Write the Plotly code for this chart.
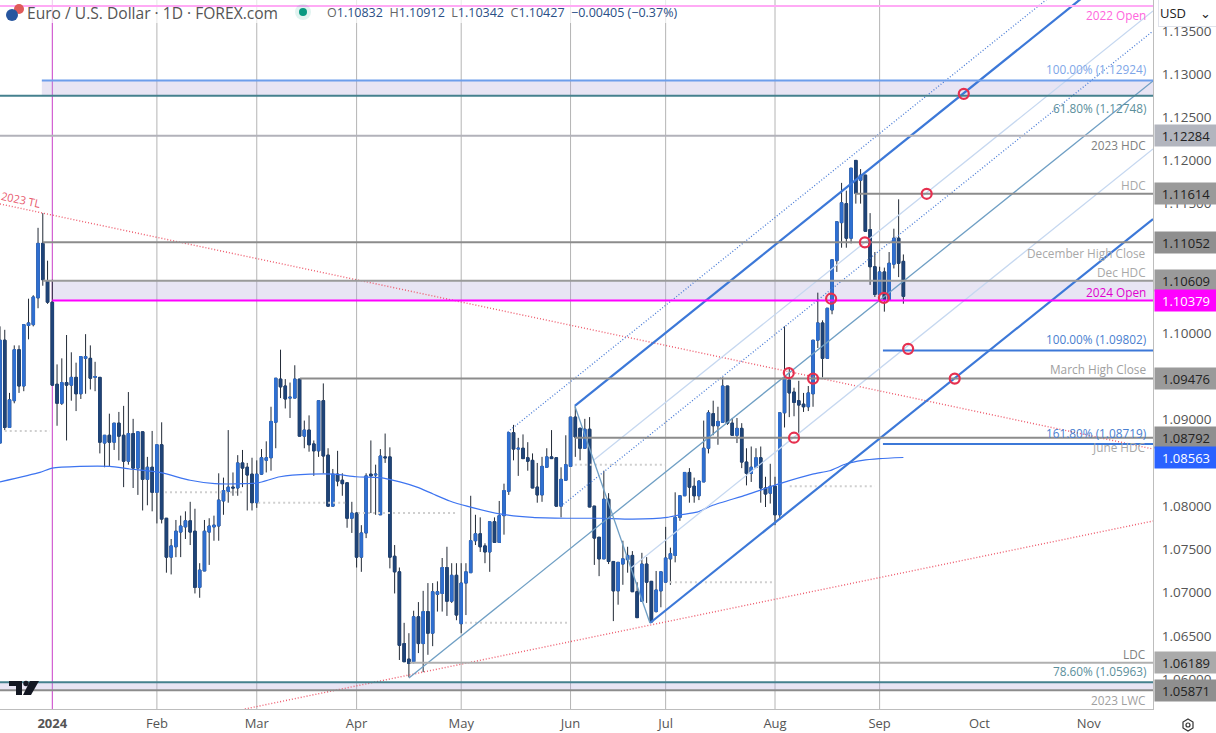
import plotly.graph_objects as go

# ---- data ----------------------------------------------------------------
opens = [1.0873,1.0992,1.0891,1.0922,1.0981,1.0939,1.1009,1.1010,1.1041,1.1104,
1.1061,1.1036,1.0941,1.0919,1.0943,1.0940,1.0949,1.0930,1.0971,1.0971,
1.0949,1.0949,1.0873,1.0882,1.0874,1.0896,1.0882,1.0852,1.0884,1.0844,
1.0886,1.0831,1.0845,1.0816,1.0871,1.0786,1.0741,1.0753,1.0770,1.0776,
1.0783,1.0771,1.0706,1.0725,1.0770,1.0776,1.0777,1.0806,1.0817,1.0822,
1.0821,1.0850,1.0845,1.0837,1.0804,1.0837,1.0853,1.0856,1.0897,1.0947,
1.0939,1.0925,1.0925,1.0947,1.0881,1.0888,1.0872,1.0864,1.0922,1.0859,
1.0800,1.0837,1.0830,1.0827,1.0786,1.0792,1.0741,1.0769,1.0837,1.0836,
1.0790,1.0857,1.0857,1.0742,1.0724,1.0641,1.0623,1.0620,1.0672,1.0641,
1.0678,1.0653,1.0698,1.0699,1.0729,1.0690,1.0720,1.0664,1.0711,1.0723,
1.0760,1.0768,1.0754,1.0747,1.0782,1.0758,1.0789,1.0817,1.0885,1.0866,
1.0867,1.0856,1.0853,1.0822,1.0813,1.0845,1.0857,1.0856,1.0800,1.0830,
1.0846,1.0903,1.0890,1.0867,1.0889,1.0800,1.0764,1.0739,1.0808,1.0736,
1.0702,1.0733,1.0738,1.0743,1.0701,1.0690,1.0733,1.0713,1.0678,1.0702,
1.0712,1.0739,1.0743,1.0787,1.0812,1.0839,1.0823,1.0812,1.0828,1.0867,
1.0907,1.0893,1.0897,1.0939,1.0896,1.0882,1.0890,1.0851,1.0838,1.0845,
1.0856,1.0821,1.0815,1.0823,1.0790,1.0908,1.0946,1.0932,1.0922,1.0918,
1.0915,1.0930,1.0992,1.1012,1.0971,1.1027,1.1084,1.1128,1.1150,1.1110,
1.1200,1.1177,1.1183,1.1120,1.1077,1.1045,1.1071,1.1039,1.1080,1.1110,1.10832]
highs = [1.1008,1.1004,1.0931,1.0986,1.0986,1.1010,1.1040,1.1044,1.1122,1.1139,
1.1084,1.1062,1.0964,1.0971,1.0998,1.0978,1.0966,1.0973,1.0999,1.0986,
1.0967,1.0949,1.0882,1.0907,1.0896,1.0909,1.0916,1.0932,1.0901,1.0886,
1.0886,1.0857,1.0887,1.0871,1.0897,1.0786,1.0762,1.0784,1.0789,1.0794,
1.0805,1.0797,1.0734,1.0784,1.0786,1.0789,1.0838,1.0833,1.0888,1.0839,
1.0859,1.0865,1.0850,1.0856,1.0853,1.0866,1.0875,1.0915,1.0948,1.0981,
1.0947,1.0943,1.0963,1.0947,1.0899,1.0905,1.0876,1.0922,1.0942,1.0867,
1.0843,1.0864,1.0838,1.0827,1.0805,1.0793,1.0778,1.0838,1.0876,1.0848,
1.0866,1.0884,1.0868,1.0755,1.0729,1.0665,1.0653,1.0679,1.0689,1.0702,
1.0711,1.0711,1.0713,1.0740,1.0753,1.0734,1.0734,1.0734,1.0734,1.0812,
1.0790,1.0787,1.0757,1.0782,1.0787,1.0806,1.0826,1.0885,1.0894,1.0879,
1.0883,1.0874,1.0861,1.0850,1.0857,1.0867,1.0888,1.0856,1.0845,1.0882,
1.0903,1.0915,1.0891,1.0901,1.0903,1.0800,1.0764,1.0841,1.0815,1.0736,
1.0735,1.0760,1.0753,1.0748,1.0712,1.0746,1.0741,1.0713,1.0725,1.0724,
1.0776,1.0752,1.0816,1.0812,1.0839,1.0844,1.0833,1.0830,1.0899,1.0911,
1.0922,1.0915,1.0949,1.0939,1.0902,1.0902,1.0896,1.0867,1.0869,1.0867,
1.0869,1.0834,1.0849,1.0834,1.0908,1.1008,1.0961,1.0937,1.0945,1.0931,
1.0939,1.0992,1.1047,1.1015,1.1029,1.1085,1.1129,1.1174,1.1165,1.1191,
1.1200,1.1190,1.1183,1.1139,1.1094,1.1077,1.1076,1.1094,1.1121,1.1155,1.10912]
lows = [1.0873,1.0888,1.0891,1.0919,1.0931,1.0933,1.0993,1.1008,1.1029,1.1055,
1.1034,1.0940,1.0893,1.0917,1.0876,1.0922,1.0910,1.0924,1.0930,1.0935,
1.0933,1.0861,1.0845,1.0846,1.0865,1.0853,1.0822,1.0848,1.0821,1.0813,
1.0795,1.0801,1.0794,1.0780,1.0780,1.0723,1.0721,1.0741,1.0741,1.0762,
1.0755,1.0699,1.0694,1.0725,1.0732,1.0760,1.0760,1.0790,1.0804,1.0812,
1.0812,1.0822,1.0795,1.0795,1.0798,1.0836,1.0839,1.0841,1.0867,1.0925,
1.0913,1.0902,1.0925,1.0881,1.0867,1.0863,1.0835,1.0857,1.0838,1.0800,
1.0800,1.0823,1.0812,1.0775,1.0769,1.0729,1.0724,1.0763,1.0792,1.0790,
1.0790,1.0850,1.0728,1.0699,1.0622,1.0620,1.0602,1.0618,1.0630,1.0608,
1.0628,1.0638,1.0678,1.0678,1.0673,1.0688,1.0668,1.0653,1.0674,1.0723,
1.0755,1.0747,1.0734,1.0724,1.0758,1.0758,1.0767,1.0813,1.0853,1.0835,
1.0855,1.0841,1.0821,1.0804,1.0805,1.0845,1.0855,1.0800,1.0787,1.0830,
1.0846,1.0857,1.0853,1.0867,1.0799,1.0732,1.0719,1.0739,1.0733,1.0667,
1.0686,1.0709,1.0723,1.0701,1.0671,1.0690,1.0688,1.0666,1.0677,1.0683,
1.0712,1.0709,1.0735,1.0783,1.0812,1.0804,1.0804,1.0807,1.0828,1.0861,
1.0882,1.0871,1.0897,1.0894,1.0882,1.0873,1.0844,1.0824,1.0828,1.0844,
1.0804,1.0799,1.0803,1.0778,1.0784,1.0891,1.0903,1.0904,1.0882,1.0909,
1.0910,1.0915,1.0983,1.0949,1.0971,1.1022,1.1071,1.1099,1.1099,1.1104,
1.1150,1.1150,1.1118,1.1056,1.1042,1.1045,1.1025,1.1039,1.1075,1.1065,1.10342]
closes = [1.0992,1.0891,1.0923,1.0981,1.0939,1.1010,1.1012,1.1042,1.1104,1.1062,
1.1036,1.0940,1.0919,1.0943,1.0940,1.0949,1.0930,1.0973,1.0973,1.0948,
1.0950,1.0874,1.0882,1.0874,1.0896,1.0881,1.0852,1.0884,1.0844,1.0886,
1.0831,1.0845,1.0816,1.0871,1.0785,1.0741,1.0754,1.0771,1.0777,1.0783,
1.0770,1.0706,1.0726,1.0771,1.0777,1.0778,1.0807,1.0818,1.0822,1.0821,
1.0850,1.0844,1.0836,1.0804,1.0837,1.0856,1.0856,1.0898,1.0948,1.0938,
1.0924,1.0926,1.0947,1.0881,1.0888,1.0871,1.0864,1.0922,1.0858,1.0800,
1.0837,1.0829,1.0826,1.0786,1.0792,1.0741,1.0769,1.0835,1.0835,1.0837,
1.0858,1.0856,1.0741,1.0724,1.0639,1.0620,1.0618,1.0672,1.0641,1.0678,
1.0653,1.0701,1.0701,1.0729,1.0690,1.0720,1.0674,1.0711,1.0724,1.0760,
1.0768,1.0753,1.0747,1.0782,1.0758,1.0789,1.0818,1.0885,1.0866,1.0867,
1.0855,1.0852,1.0821,1.0813,1.0846,1.0857,1.0855,1.0800,1.0831,1.0848,
1.0903,1.0880,1.0867,1.0889,1.0799,1.0763,1.0739,1.0808,1.0736,1.0702,
1.0735,1.0739,1.0743,1.0701,1.0671,1.0733,1.0712,1.0666,1.0703,1.0724,
1.0740,1.0745,1.0787,1.0812,1.0839,1.0822,1.0812,1.0829,1.0867,1.0908,
1.0893,1.0898,1.0939,1.0896,1.0882,1.0890,1.0851,1.0838,1.0845,1.0856,
1.0821,1.0814,1.0823,1.0790,1.0908,1.0948,1.0931,1.0920,1.0917,1.0915,
1.0931,1.0992,1.1012,1.0971,1.1029,1.1085,1.1129,1.1151,1.1110,1.1191,
1.1162,1.1183,1.1118,1.1077,1.1045,1.1071,1.1039,1.1081,1.1110,1.1081,1.10427]
first_bar = -11            # trading-day index; 0 = first session of 2024

month_bars = [0, 22, 43, 64, 86, 109, 129, 152, 174, 195, 218]
month_labels = ["<b>2024</b>", "Feb", "Mar", "Apr", "May", "Jun", "Jul", "Aug", "Sep", "Oct", "Nov"]
grid_bars = [22, 43, 64, 86, 109, 129, 152, 174]

price_ticks = [1.135, 1.13, 1.125, 1.12, 1.115, 1.10, 1.09, 1.08, 1.075, 1.07, 1.065, 1.06]

sma_bars = [-11,-2.6,0,5.8,12.1,16.3,22.6,29,34.2,40.5,43.3,47.9,54.2,59.4,63.9,68.9,73.1,76.7,
            80.1,83.6,87.2,94.1,101,108.2,115.2,122.1,129.3,132,135.6,138.9,146,153,159.9,
            163.5,167,170.4,174,179]
sma_vals = [1.0828,1.0839,1.0844,1.0846,1.0846,1.0843,1.0839,1.0830,1.0826,1.0826,1.0827,1.0834,
            1.0837,1.0837,1.0834,1.0833,1.0828,1.0822,1.0814,1.0806,1.0800,1.0791,1.0787,1.0786,
            1.0786,1.0785,1.0787,1.0790,1.0793,1.0801,1.0813,1.0826,1.0837,1.0841,1.0849,1.0853,
            1.0855,1.08563]

level_vals = [1.13787,1.12924,1.12748,1.12284,1.11614,1.11052,1.10609,1.10379,1.09802,1.09476,
              1.08792,1.08719,1.06189,1.05963,1.05871]
level_from = [-11,-2.2,-11,-11,168.8,-2,-2,0,174.7,52.1,109.9,174.7,75.2,-11,-11]
level_cols = ["#ffaaf5","#6d9eeb","#45818e","#b2b2ba","#8c8c8c","#8c8c8c","#9a9a9a","#ff00ff",
              "#3c78d8","#8c8c8c","#8c8c8c","#3c78d8","#b0b0b0","#45818e","#8c8c8c"]

band_x0 = [-2.2, 0, -11]
band_hi = [1.12924, 1.10609, 1.05963]
band_lo = [1.12748, 1.10379, 1.05871]

pivot_from = [-10, 23.7, 43.3, 64.3, 86.8, 109.9, 129.9, 155.1]
pivot_to = [-0.5, 40.1, 61.6, 85.3, 108.3, 128.9, 151.6, 173]
pivot_vals = [1.0887, 1.0816, 1.0804, 1.0792, 1.0665, 1.0848, 1.0712, 1.0823]

AXIS_END = 231.5
chan_x0 = [109.9, 125.7, 75.0, 113.9, 121.7, 95.8, 107.0]
chan_y0 = [1.09159, 1.06648, 1.06012, 1.08534, 1.07284, 1.08858, 1.0800]
chan_y1 = [1.1454, 1.11322, 1.12919, 1.13729, 1.12132, 1.14851, 1.13497]
chan_cols = ["#3c78d8", "#3c78d8", "#6f9fc4", "#c6d8f0", "#c6d8f0", "#4a7cd6", "#4a7cd6"]
chan_wid = [2.2, 2.2, 1.3, 1.3, 1.3, 1.3, 1.3]
chan_dash = ["solid", "solid", "solid", "solid", "solid", "1px,2px", "1px,2px"]
handle_x = [109.9, 125.7]
handle_y = [1.09159, 1.06648]

tl_x = [[-11, 231.5], [40.5, 231.5]]
tl_y = [[1.11496, 1.08661], [1.05653, 1.07828]]

ring_x = [191.7, 183.9, 170.9, 163.8, 174.9, 180, 154.9, 160, 189.8, 156]
ring_y = [1.1277, 1.11614, 1.11052, 1.1040, 1.1041, 1.0982, 1.0954, 1.09476, 1.09476, 1.08792]

label_text = ["2022 Open","100.00% (1.12924)","61.80% (1.12748)","2023 HDC","HDC","December High Close",
              "Dec HDC","2024 Open","100.00% (1.09802)","March High Close","161.80% (1.08719)",
              "June HDC","LDC","78.60% (1.05963)","2023 LWC"]
label_y = [1.1368,1.1306,1.1261,1.1218,1.1172,1.1093,1.1071,1.1048,1.0993,1.0959,1.0885,1.0868,
           1.0629,1.0609,1.0576]
label_cols = ["#ff66dd","#7ea6e8","#5b8f9c","#808080","#a8a8a8","#a8a8a8","#a8a8a8","#e000d0",
              "#4a80d0","#a0a0a0","#4a80d0","#a8a8a8","#808080","#5b8f9c","#a0a0a0"]

tag_vals = [1.12284,1.11614,1.11052,1.10609,1.10379,1.09476,1.08792,1.08563,1.06189,1.05871]
tag_bg = ["#b2b5be","#9a9a9a","#8f8f8f","#9a9a9a","#ff00ff","#9a9a9a","#8f8f8f","#2962ff","#aaaaaa","#8f8f8f"]
tag_fg = ["#222","#222","#222","#222","#fff","#222","#222","#fff","#222","#222"]

# ---- figure ----------------------------------------------------------------
W, H, PW, PH = 1216, 733, 1153, 709
FONT = "Open Sans"
bars = list(range(first_bar, first_bar + len(opens)))
Y_MIN, Y_MAX = 1.05653, 1.13856
fig = go.Figure()
BLUE, NAVY, WICK = "#2f6fd0", "#1f4478", "#222a36"

# wicks (full range) then clean bodies above them
fig.add_trace(go.Candlestick(x=bars, open=opens, high=highs, low=lows, close=closes,
    increasing=dict(line=dict(color=WICK, width=1), fillcolor=WICK),
    decreasing=dict(line=dict(color=WICK, width=1), fillcolor=WICK),
    whiskerwidth=0, hoverinfo="skip", showlegend=False))
fig.add_trace(go.Candlestick(x=bars, open=opens, close=closes,
    high=[max(a, b) for a, b in zip(opens, closes)],
    low=[min(a, b) for a, b in zip(opens, closes)],
    increasing=dict(line=dict(color=BLUE, width=1), fillcolor=BLUE),
    decreasing=dict(line=dict(color=NAVY, width=1), fillcolor=NAVY),
    whiskerwidth=0, hoverinfo="skip", showlegend=False))

fig.add_trace(go.Scatter(x=sma_bars, y=sma_vals, mode="lines", hoverinfo="skip", showlegend=False,
    line=dict(color="#3d74f0", width=1.2, shape="spline", smoothing=0.6)))

for a, b, v in zip(pivot_from, pivot_to, pivot_vals):
    fig.add_trace(go.Scatter(x=[a, b], y=[v, v], mode="lines", hoverinfo="skip", showlegend=False,
        line=dict(color="#cfcfcf", width=2, dash="2px,3px")))

for xs, ys in zip(tl_x, tl_y):
    fig.add_trace(go.Scatter(x=xs, y=ys, mode="lines", hoverinfo="skip", showlegend=False,
        line=dict(color="#ee5a6c", width=1.4, dash="1px,2px")))

for x0, y0, y1, c, w, d in zip(chan_x0, chan_y0, chan_y1, chan_cols, chan_wid, chan_dash):
    fig.add_trace(go.Scatter(x=[x0, AXIS_END], y=[y0, y1], mode="lines", hoverinfo="skip", showlegend=False,
        line=dict(color=c, width=w, dash=d)))
fig.add_trace(go.Scatter(x=handle_x, y=handle_y, mode="lines", hoverinfo="skip", showlegend=False,
    line=dict(color="#6f9fc4", width=1.3)))

for v, x0, c in zip(level_vals, level_from, level_cols):
    fig.add_trace(go.Scatter(x=[x0, AXIS_END], y=[v, v], mode="lines", hoverinfo="skip", showlegend=False,
        line=dict(color=c, width=2)))

fig.add_trace(go.Scatter(x=ring_x, y=ring_y, mode="markers", hoverinfo="skip", showlegend=False,
    marker=dict(symbol="circle-open", size=10, color="#e6304f", line=dict(width=2.2, color="#e6304f"))))

shapes = []
for b in grid_bars:
    shapes.append(dict(type="line", layer="between", x0=b, x1=b, xref="x", yref="paper", y0=0, y1=1,
                       line=dict(color="#b4b4b4", width=1)))
shapes.append(dict(type="line", layer="between", x0=0, x1=0, xref="x", yref="paper", y0=0, y1=1,
                   line=dict(color="#c83cc8", width=1)))
shapes.append(dict(type="rect", layer="between", xref="paper", yref="paper", x0=0, x1=680 / PW,
                   y0=1 - 23 / PH, y1=1, fillcolor="rgba(255,255,255,0.7)", line_width=0))
for x0, a, b in zip(band_x0, band_hi, band_lo):
    shapes.append(dict(type="rect", layer="between", x0=x0, x1=AXIS_END, y0=b, y1=a, xref="x", yref="y",
                       fillcolor="rgba(180,170,220,0.3)", line_width=0))


def px(x):
    return x / PW


def py(y):
    return 1 - y / PH


def circle(cx, cy, r, fill):
    return dict(type="circle", xref="paper", yref="paper", x0=px(cx - r), x1=px(cx + r),
                y0=py(cy + r), y1=py(cy - r), fillcolor=fill, line_width=0, layer="above")


def poly(points, fill):
    d = "M" + " L".join(f"{px(x):.5f},{py(y):.5f}" for x, y in points) + " Z"
    return dict(type="path", path=d, xref="paper", yref="paper", fillcolor=fill, line_width=0, layer="above")


# instrument icon, status dot, TradingView mark, settings hexagon
shapes += [circle(19, 9, 5, "#e05a5a"), circle(12, 15, 6, "#27569f"),
           circle(303, 12, 8, "rgba(8,153,129,0.12)"), circle(303, 12, 4, "#089981"),
           poly([(9, 681), (22, 681), (22, 695), (16, 695), (16, 686), (9, 686)], "#131722"),
           circle(26, 683.5, 2.7, "#131722"),
           poly([(30, 681), (39, 681), (31, 695), (23, 695)], "#131722")]
hex_pts = [(1188, 719), (1193, 722), (1193, 728), (1188, 731), (1183, 728), (1183, 722)]
shapes.append(dict(type="path", xref="paper", yref="paper", layer="above",
                   path="M" + " L".join(f"{px(x):.5f},{py(y):.5f}" for x, y in hex_pts) + " Z",
                   line=dict(color="#333", width=1.2), fillcolor="rgba(0,0,0,0)"))
shapes.append(dict(type="circle", xref="paper", yref="paper", layer="above", x0=px(1186), x1=px(1190),
                   y0=py(727), y1=py(723), line=dict(color="#333", width=1.2), fillcolor="rgba(0,0,0,0)"))

anns = []
for t, y, c in zip(label_text, label_y, label_cols):
    anns.append(dict(text=t, xref="paper", x=1148 / PW, xanchor="right", yref="y", y=y, yanchor="middle",
                     showarrow=False, font=dict(family=FONT, size=11.8, color=c)))
for v, bg, fg in zip(tag_vals, tag_bg, tag_fg):
    anns.append(dict(text=f"{v:.5f}", xref="paper", x=1, xanchor="left", xshift=1, yref="y", y=v, yanchor="middle",
                     width=62, height=21, bgcolor=bg, showarrow=False, align="center", borderpad=0,
                     font=dict(family=FONT, size=13, color=fg)))
anns.append(dict(text="2023 TL", xref="x", yref="y", x=-6.5, y=1.1155, showarrow=False, textangle=12,
                 font=dict(family=FONT, size=11, color="#e8586c")))
anns.append(dict(text="Euro / U.S. Dollar · 1D · FOREX.com", xref="paper", yref="paper", x=25 / PW, y=py(13),
                 xanchor="left", yanchor="middle", showarrow=False, font=dict(family=FONT, size=15.6, color="#555")))
legend_pairs = [("O", "1.10832"), ("H", "1.10912"), ("L", "1.10342"), ("C", "1.10427")]
num = "#2a4f86"
leg = "  ".join(f'<span style="color:#666">{a}</span><span style="color:{num}">{b}</span>' for a, b in legend_pairs)
leg += f'  <span style="color:{num}">−0.00405 (−0.37%)</span>'
anns.append(dict(text=leg, xref="paper", yref="paper", x=325 / PW, y=py(13), xanchor="left", yanchor="middle",
                 showarrow=False, font=dict(family=FONT, size=12.5)))
anns.append(dict(text="USD    ⌄", xref="paper", yref="paper", x=1158 / PW, y=py(13), xanchor="left", yanchor="middle",
                 width=57, height=24, bgcolor="#fff", bordercolor="#e0e3eb", borderwidth=1, showarrow=False, align="left",
                 font=dict(family=FONT, size=13, color="#222")))

fig.update_layout(
    width=W, height=H, autosize=False, margin=dict(l=0, r=W - PW, t=0, b=H - PH, autoexpand=False),
    paper_bgcolor="#fff", plot_bgcolor="#fff", showlegend=False, boxgap=0.24, hovermode=False,
    font=dict(family=FONT, color="#555"), shapes=shapes, annotations=anns,
    xaxis=dict(range=[-11.0, AXIS_END], rangeslider=dict(visible=False), showgrid=False, zeroline=False,
               tickmode="array", tickvals=month_bars, ticktext=month_labels, ticks="", showline=True,
               linecolor="#bdbdbd", linewidth=1, ticklabelstandoff=2, automargin=False,
               tickfont=dict(family=FONT, size=13, color="#555")),
    yaxis=dict(range=[Y_MIN, Y_MAX], side="right", showgrid=False, zeroline=False, tickmode="array",
               tickvals=price_ticks, ticktext=[f"{v:.5f}" for v in price_ticks], ticks="", showline=True,
               linecolor="#bdbdbd", linewidth=1, ticklabelstandoff=5, automargin=False,
               tickfont=dict(family=FONT, size=13.5, color="#555")),
)

fig.write_html("out.html", config={"displayModeBar": False},
               post_script="document.body.style.margin='0';document.body.style.overflow='hidden';")
